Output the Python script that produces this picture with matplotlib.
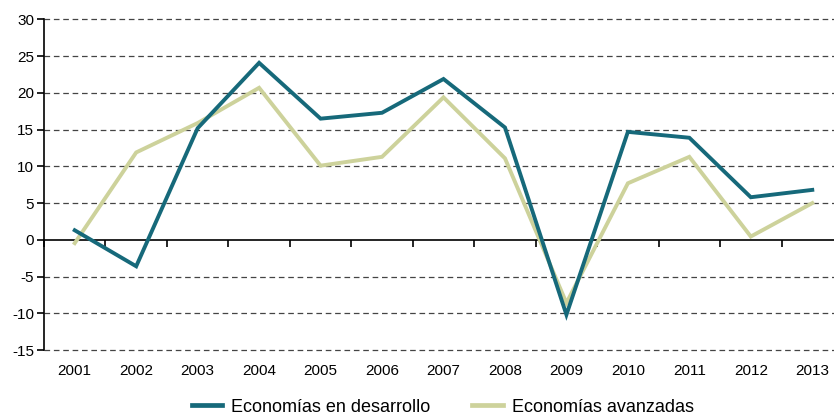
import matplotlib
matplotlib.use("Agg")
import matplotlib.pyplot as plt
from matplotlib.lines import Line2D

plt.rcParams['font.family'] = ['Liberation Sans', 'DejaVu Sans']

years = ["2001", "2002", "2003", "2004", "2005", "2006", "2007",
         "2008", "2009", "2010", "2011", "2012", "2013"]
desarrollo = [1.3, -3.6, 15.2, 24.1, 16.5, 17.3, 21.9, 15.3, -10.2, 14.7, 13.9, 5.8, 6.8]
avanzadas = [-0.45, 11.9, 15.9, 20.7, 10.1, 11.3, 19.4, 11.1, -8.6, 7.7, 11.3, 0.45, 5.0]
yticks = [-15, -10, -5, 0, 5, 10, 15, 20, 25, 30]

c_dev = "#16697A"
c_adv = "#CDD29B"

fig = plt.figure(figsize=(8.34, 4.15), dpi=100)
ax = fig.add_axes([44/834, 65/415, (843-44)/834, (350-19.5)/415])

x = list(range(len(years)))
ax.plot(x, avanzadas, color=c_adv, lw=2.8, solid_joinstyle='miter', zorder=3)
ax.plot(x, desarrollo, color=c_dev, lw=2.8, solid_joinstyle='miter', zorder=4)

ax.set_xlim(-0.5, len(years) - 0.5)
ax.set_ylim(-15, 30)

for v in yticks:
    if v != 0:
        ax.axhline(v, color="#444444", lw=0.9, ls=(0, (4.5, 3)), zorder=1,
                   clip_on=False)

for s in ['top', 'right']:
    ax.spines[s].set_visible(False)
ax.spines['left'].set_color('black')
ax.spines['left'].set_linewidth(1.2)
ax.spines['bottom'].set_position(('data', 0))
ax.spines['bottom'].set_linewidth(1.2)

ax.set_yticks(yticks)
ax.set_yticklabels([str(v) for v in yticks])
ax.tick_params(axis='y', direction='out', length=5, width=1.2, labelsize=11, pad=2)

ax.set_xticks([i + 0.5 for i in range(len(years) - 1)] + [-0.5])
ax.set_xticklabels([])
ax.tick_params(axis='x', direction='out', length=5, width=1.2)

sec = ax.secondary_xaxis(0.0)
sec.set_xticks(x)
sec.set_xticklabels(years)
sec.tick_params(axis='x', length=0, labelsize=11, pad=10)
sec.spines['bottom'].set_visible(False)

handles = [Line2D([0], [0], color=c_dev, lw=3.4),
           Line2D([0], [0], color=c_adv, lw=3.4)]
fig.legend(handles, ["Economías en desarrollo", "Economías avanzadas"],
           loc='center', bbox_to_anchor=(0.531, 8/415), ncol=2, frameon=False,
           fontsize=13, handlelength=1.7, handletextpad=0.5, columnspacing=2.3,
           borderpad=0)

fig.savefig("out.png", dpi=100)
